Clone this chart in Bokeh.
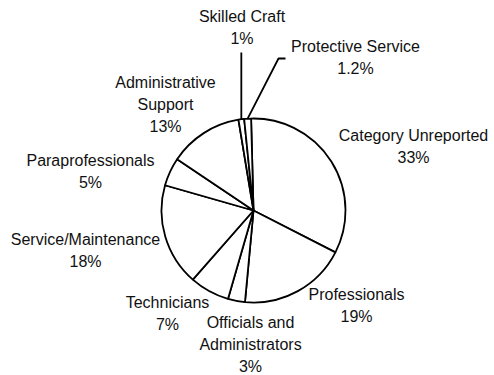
import math
from bokeh.plotting import figure
from bokeh.models import Range1d, ColumnDataSource
from bokeh.core.properties import value
from bokeh.embed import file_html
from bokeh.resources import INLINE

# ---- data (clockwise from top) ----
categories = ["Category Unreported", "Professionals", "Officials and Administrators",
              "Technicians", "Service/Maintenance", "Paraprofessionals",
              "Administrative Support", "Skilled Craft", "Protective Service"]
percents = [33, 19, 3, 7, 18, 5, 13, 1, 1.2]

# ---- layout (page pixel coordinates) ----
W, H = 494, 375
CX, CY, R = 253, 210, 92
START_DEG = -1.5          # clockwise degrees from 12 o'clock where the first slice starts
FONT = "Liberation Sans"
FONT_SIZE = "16px"
LINE_GAP = 22
TEXT_DY = -6              # renderer baseline correction
# label: (center x, first baseline y, lines of category name)
label_layout = {
    "Category Unreported": (413, 141, ["Category Unreported"]),
    "Professionals": (356, 300, ["Professionals"]),
    "Officials and Administrators": (250, 328, ["Officials and", "Administrators"]),
    "Technicians": (167, 308, ["Technicians"]),
    "Service/Maintenance": (85, 245, ["Service/Maintenance"]),
    "Paraprofessionals": (90, 166, ["Paraprofessionals"]),
    "Administrative Support": (165, 88, ["Administrative", "Support"]),
    "Skilled Craft": (241.5, 22, ["Skilled Craft"]),
    "Protective Service": (355, 52, ["Protective Service"]),
}
# leader lines: extra points after the slice edge point (page coords; None x = same as edge)
leader_layout = {
    "Skilled Craft": [(None, 52)],
    "Protective Service": [(278, 58), (285, 58)],
}

p = figure(width=W, height=H, output_backend="svg", toolbar_location=None,
           x_range=Range1d(0, W), y_range=Range1d(-H, 0),
           min_border=0, x_axis_location=None, y_axis_location=None,
           outline_line_color=None, background_fill_color="white",
           border_fill_color="white")
p.grid.visible = False

total = sum(percents)
starts, ends, mids = [], [], []
acc = START_DEG
for v in percents:
    a0 = acc
    a1 = acc + v / total * 360.0
    acc = a1
    starts.append(math.radians(90 - a1))
    ends.append(math.radians(90 - a0))
    mids.append((a0 + a1) / 2)

src = ColumnDataSource(dict(cat=categories, pct=percents, start=starts, end=ends))
p.wedge(x=CX, y=-CY, radius=R, start_angle="start", end_angle="end", source=src,
        fill_color="white", line_color="black", line_width=1.8)

# leader lines
for cat, pts in leader_layout.items():
    i = categories.index(cat)
    m = math.radians(mids[i])
    ex = CX + R * math.sin(m)
    ey = CY - R * math.cos(m)
    xs, ys = [ex], [-ey]
    for (px, py) in pts:
        xs.append(ex if px is None else px)
        ys.append(-py)
    p.line(xs, ys, line_color="black", line_width=1.8)

# labels
tx, ty, tt = [], [], []
for cat, v in zip(categories, percents):
    x, y0, lines = label_layout[cat]
    lines = lines + [f"{v:g}%"]
    for k, ln in enumerate(lines):
        tx.append(x)
        ty.append(-(y0 + k * LINE_GAP + TEXT_DY))
        tt.append(ln)
p.text(x=tx, y=ty, text=tt, text_align="center", text_baseline="alphabetic",
       text_font=value(FONT), text_font_size=FONT_SIZE, text_color="#111111")

open("out.html", "w").write(file_html(p, INLINE))
